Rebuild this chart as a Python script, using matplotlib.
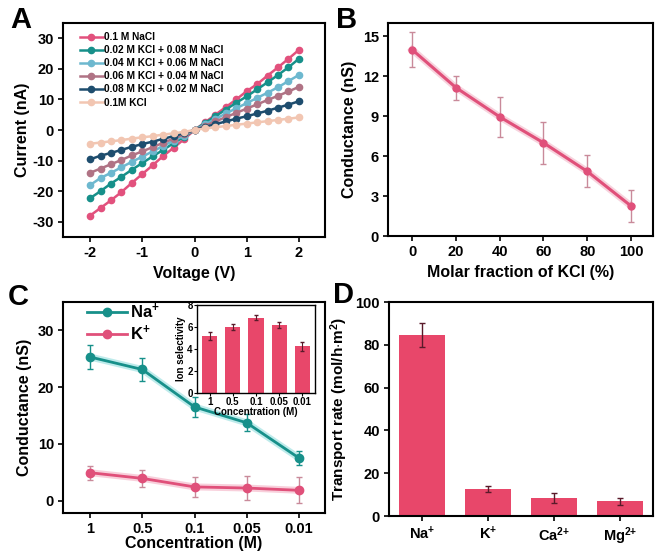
import numpy as np
import matplotlib.pyplot as plt
from matplotlib.lines import Line2D

plt.rcParams['font.family'] = ['Liberation Sans', 'DejaVu Sans']
plt.rcParams['font.weight'] = 'bold'
plt.rcParams['axes.labelweight'] = 'bold'
plt.rcParams['axes.linewidth'] = 1.5
plt.rcParams['axes.unicode_minus'] = False
plt.rcParams['mathtext.fontset'] = 'custom'
plt.rcParams['mathtext.rm'] = 'Liberation Sans:bold'
plt.rcParams['mathtext.it'] = 'Liberation Sans:bold'
plt.rcParams['mathtext.bf'] = 'Liberation Sans:bold'
plt.rcParams['mathtext.default'] = 'rm'
plt.rcParams['xtick.major.width'] = 1.2
plt.rcParams['ytick.major.width'] = 1.2
plt.rcParams['xtick.labelsize'] = 10.5
plt.rcParams['ytick.labelsize'] = 10.5

# ---- panel A data ----
voltage = [-2, -1.8, -1.6, -1.4, -1.2, -1, -0.8, -0.6, -0.4, -0.2, 0,
           0.2, 0.4, 0.6, 0.8, 1, 1.2, 1.4, 1.6, 1.8, 2]
iv_labels = ['0.1 M NaCl', '0.02 M KCl + 0.08 M NaCl', '0.04 M KCl + 0.06 M NaCl',
             '0.06 M KCl + 0.04 M NaCl', '0.08 M KCl + 0.02 M NaCl', '0.1M KCl']
iv_nacl = [-28, -25.5, -23, -20.3, -17.3, -14.4, -11.5, -8.5, -5.8, -3, 0,
           2.5, 5, 7.5, 10, 12.7, 15, 17.8, 20.5, 23.3, 26.2]
iv_k02 = [-22.3, -20, -17.5, -15.3, -13, -10.8, -8.6, -6.5, -4.3, -2.2, 0,
          2.3, 4.5, 6.7, 8.9, 11, 13.3, 15.6, 18, 20.5, 23.3]
iv_k04 = [-18, -15.7, -14, -12.2, -10.4, -8.7, -7, -5.2, -3.5, -1.8, 0,
          1.8, 3.6, 5.4, 7.1, 8.8, 10.5, 12.2, 14, 16, 18]
iv_k06 = [-14, -12.6, -11.2, -9.8, -8.3, -7, -5.6, -4.2, -2.8, -1.4, 0,
          1.4, 2.8, 4.2, 5.6, 7, 8.4, 9.8, 11.2, 12.6, 14.1]
iv_k08 = [-9.6, -8.4, -7.5, -6.5, -5.5, -4.6, -3.8, -2.9, -2, -1, 0,
          1, 1.9, 2.8, 3.7, 4.5, 5.4, 6.3, 7.3, 8.3, 9.4]
iv_kcl = [-4.5, -4.1, -3.7, -3.3, -2.8, -2.4, -2, -1.5, -1.1, -0.6, 0,
          0.5, 0.9, 1.3, 1.7, 2.1, 2.5, 2.9, 3.3, 3.7, 4.1]
iv_colors = ['#E2517D', '#17908A', '#6DB8CF', '#B07385', '#1E4D6E', '#F2C6B2']

# ---- panel B data ----
kcl_frac = [0, 20, 40, 60, 80, 100]
cond_b = [14.0, 11.15, 8.95, 7.0, 4.85, 2.25]
cond_b_err = [1.3, 0.9, 1.5, 1.6, 1.2, 1.2]

# ---- panel C data ----
conc_labels = ['1', '0.5', '0.1', '0.05', '0.01']
cond_na = [25.3, 23.1, 16.5, 13.7, 7.5]
cond_na_err = [2.1, 2.0, 1.8, 1.5, 1.3]
cond_k = [4.9, 3.9, 2.4, 2.2, 1.8]
cond_k_err = [1.2, 1.5, 1.8, 2.1, 2.3]
selectivity = [5.2, 6.0, 6.85, 6.2, 4.25]
selectivity_err = [0.35, 0.25, 0.2, 0.25, 0.4]

# ---- panel D data ----
ions = ['Na$^{+}$', 'K$^{+}$', 'Ca$^{2{+}}$', 'Mg$^{2{+}}$']
rate = [84.5, 12.5, 8.5, 6.8]
rate_err = [5.5, 1.5, 2.3, 1.8]

W, H = 660, 559
fig = plt.figure(figsize=(W / 100, H / 100), dpi=100)


def box(l, t, r, b):
    return fig.add_axes([l / W, 1 - b / H, (r - l) / W, (b - t) / H])


# A
axA = box(63, 23, 325, 237)
for y, lab, c in zip([iv_nacl, iv_k02, iv_k04, iv_k06, iv_k08, iv_kcl], iv_labels, iv_colors):
    axA.plot(voltage, y, '-o', color=c, lw=1.8, ms=4.5, label=lab)
axA.set_xlim(-2.52, 2.5)
axA.set_ylim(-35, 35)
axA.set_xticks([-2, -1, 0, 1, 2])
axA.set_yticks([-30, -20, -10, 0, 10, 20, 30])
axA.set_xlabel('Voltage (V)', fontsize=11.5)
axA.set_ylabel('Current (nA)', fontsize=11.5, labelpad=2)
axA.legend(loc='upper left', frameon=False, handlelength=2.3,
           labelspacing=0.3, bbox_to_anchor=(0.04, 0.985), borderaxespad=0.2,
           handletextpad=0.15, prop={'weight': 'bold', 'size': 7.3})

# B
axB = box(388, 23, 653, 236)
pink = '#E0507A'
axB.plot(kcl_frac, cond_b, '-', color=pink, lw=5, alpha=0.25)
axB.errorbar(kcl_frac, cond_b, yerr=cond_b_err, fmt='-o', color=pink, lw=2.2, ms=5,
             ecolor='#C98A9A', elinewidth=1, capsize=2.5)
axB.set_xlim(-11, 110)
axB.set_ylim(0, 16)
axB.set_xticks(kcl_frac)
axB.set_yticks([0, 3, 6, 9, 12, 15])
axB.set_xlabel('Molar fraction of KCl (%)', fontsize=11.5)
axB.set_ylabel('Conductance (nS)', fontsize=11.5)

# C
axC = box(63, 302, 325, 513)
xc = np.arange(len(conc_labels))
teal = '#17908A'
axC.plot(xc, cond_na, '-', color='#7FD8D8', lw=5, alpha=0.5)
axC.plot(xc, cond_k, '-', color='#F2A0B8', lw=5, alpha=0.5)
axC.errorbar(xc, cond_na, yerr=cond_na_err, fmt='-o', color=teal, lw=2, ms=6,
             elinewidth=1, capsize=2.5)
axC.errorbar(xc, cond_k, yerr=cond_k_err, fmt='-o', color=pink, lw=2, ms=6,
             ecolor='#C98A9A', elinewidth=1, capsize=2.5)
axC.set_xlim(-0.52, 4.5)
axC.set_ylim(-2.2, 35)
axC.set_xticks(xc)
axC.set_xticklabels(conc_labels)
axC.set_yticks([0, 10, 20, 30])
axC.set_xlabel('Concentration (M)', fontsize=11.5, labelpad=0)
axC.set_ylabel('Conductance (nS)', fontsize=11.5)
handles = [Line2D([], [], color=teal, lw=2, marker='o', ms=6),
           Line2D([], [], color=pink, lw=2, marker='o', ms=6)]
axC.legend(handles, ['Na$^{+}$', 'K$^{+}$'], loc='upper left', frameon=False,
           handlelength=2.4, labelspacing=0.15, bbox_to_anchor=(0.06, 1.04),
           borderaxespad=0.1, handletextpad=0.2,
           prop={'weight': 'bold', 'size': 12})

# C inset
axI = box(197, 305, 315, 393)
bar_red = '#E8476A'
axI.bar(xc, selectivity, width=0.65, color=bar_red, yerr=selectivity_err,
        error_kw={'elinewidth': 0.8, 'capsize': 1.5, 'ecolor': '#5A1A2A'})
axI.set_xlim(-0.55, 4.55)
axI.set_ylim(0, 8)
axI.set_xticks(xc)
axI.set_xticklabels(conc_labels, fontsize=7)
axI.set_yticks([0, 2, 4, 6, 8])
axI.tick_params(labelsize=7, length=2, width=0.8, pad=1)
axI.set_xlabel('Concentration (M)', fontsize=7, labelpad=0)
axI.set_ylabel('Ion selectivity', fontsize=7, labelpad=1)
for s in axI.spines.values():
    s.set_linewidth(1)

# D
axD = box(389, 302, 653, 516)
xd = np.arange(len(ions))
axD.bar(xd, rate, width=0.7, color=bar_red, yerr=rate_err,
        error_kw={'elinewidth': 1, 'capsize': 2, 'ecolor': '#5A1A2A'})
axD.set_xlim(-0.5, 3.5)
axD.set_ylim(0, 100)
axD.set_xticks(xd)
axD.set_xticklabels(ions)
axD.set_yticks([0, 20, 40, 60, 80, 100])
axD.set_ylabel('Transport rate (mol/h$\\cdot$m$^{2}$)', fontsize=11)

for ax in [axA, axB, axC, axD]:
    ax.tick_params(length=3.5, pad=3)

fig.text(10 / W, 1 - 28 / H, 'A', fontsize=21, fontweight='bold')
fig.text(336 / W, 1 - 28 / H, 'B', fontsize=21, fontweight='bold')
fig.text(8 / W, 1 - 305 / H, 'C', fontsize=21, fontweight='bold')
fig.text(333 / W, 1 - 303 / H, 'D', fontsize=21, fontweight='bold')

fig.savefig('out.png', dpi=100)
